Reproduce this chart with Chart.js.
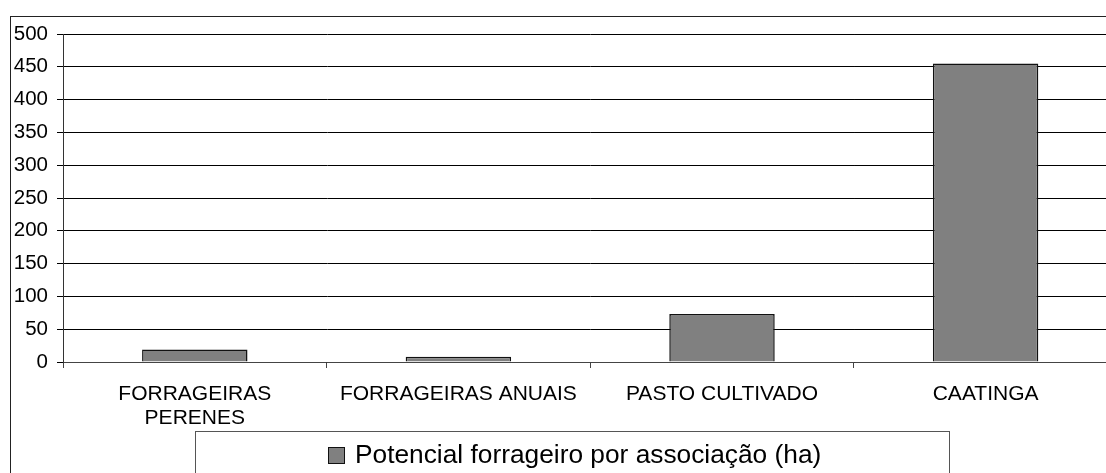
<!DOCTYPE html>
<html>
<head>
<meta charset="utf-8">
<script src="https://cdn.jsdelivr.net/npm/chart.js@4"></script>
<style>
html,body{margin:0;padding:0;overflow:hidden;background:#fff;width:1106px;height:473px;}
canvas{display:block;}
</style>
</head>
<body>
<canvas id="c" width="1130" height="473" style="width:1130px;height:473px"></canvas>
<script>
const categories = [["FORRAGEIRAS", "PERENES"], "FORRAGEIRAS ANUAIS", "PASTO CULTIVADO", "CAATINGA"];
const seriesLabel = "Potencial forrageiro por associação (ha)";
const seriesValues = [19, 8, 73, 455];
const yMin = 0, yMax = 500, yStep = 50;

const FONT = "'Liberation Sans', Arial, sans-serif";

const framePlugin = {
  id: 'frame',
  beforeDraw(chart) {
    const ctx = chart.ctx;
    ctx.save();
    ctx.fillStyle = '#fff';
    ctx.fillRect(0, 0, chart.width, chart.height);
    ctx.strokeStyle = '#222';
    ctx.lineWidth = 1;
    ctx.strokeRect(10.5, 16.5, 2000, 1000);
    ctx.restore();
  },
  afterDraw(chart) {
    const ctx = chart.ctx;
    const ds = chart.data.datasets[0];
    ctx.save();
    ctx.fillStyle = '#fff';
    ctx.fillRect(195.5, 431.5, 754, 60);
    ctx.strokeStyle = '#555';
    ctx.lineWidth = 1;
    ctx.strokeRect(195.5, 431.5, 754, 60);
    ctx.fillStyle = ds.backgroundColor;
    ctx.fillRect(328.5, 447.5, 16, 16);
    ctx.strokeStyle = '#111';
    ctx.strokeRect(328.5, 447.5, 16, 16);
    ctx.fillStyle = '#000';
    ctx.font = '26.3px ' + FONT;
    ctx.textBaseline = 'middle';
    ctx.textAlign = 'left';
    ctx.fillText(ds.label, 355, 456);
    ctx.restore();
  }
};

new Chart(document.getElementById('c'), {
  type: 'bar',
  data: {
    labels: categories,
    datasets: [{
      label: seriesLabel,
      data: seriesValues,
      backgroundColor: '#808080',
      borderColor: '#111',
      borderWidth: 1.5,
      categoryPercentage: 1,
      barPercentage: 0.4
    }]
  },
  options: {
    responsive: false,
    animation: false,
    devicePixelRatio: 1,
    layout: { padding: { left: 0, top: 34, right: 12.6, bottom: 0 } },
    plugins: { legend: { display: false }, tooltip: { enabled: false } },
    scales: {
      x: {
        offset: true,
        grid: { drawOnChartArea: false, drawTicks: true, tickLength: 6, color: '#444', offset: true },
        border: { color: '#444', width: 1 },
        ticks: {
          color: '#000', padding: 14, maxRotation: 0, autoSkip: false,
          font: { family: FONT, size: 21, lineHeight: 1.14 }
        },
        afterFit(s) { s.height = 111; }
      },
      y: {
        min: yMin, max: yMax,
        grid: { color: '#000', lineWidth: 1, tickLength: 6 },
        border: { color: '#333', width: 1 },
        ticks: {
          stepSize: yStep, color: '#000', padding: 9,
          font: { family: FONT, size: 20.5 }
        },
        afterFit(s) { s.width = 63; }
      }
    }
  },
  plugins: [framePlugin]
});
</script>
</body>
</html>
